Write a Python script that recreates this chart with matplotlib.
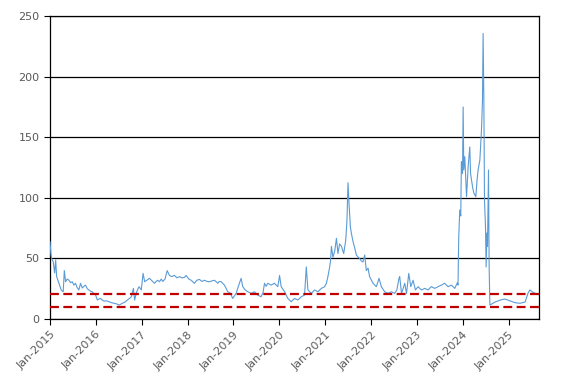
import matplotlib
matplotlib.use("Agg")
import matplotlib.pyplot as plt
import matplotlib.dates as mdates
import pandas as pd

dates = [
    "2015-01-01", "2015-01-08", "2015-01-14", "2015-01-27", "2015-02-07", "2015-02-15", "2015-02-23",
    "2015-03-13", "2015-03-31", "2015-04-16", "2015-04-25", "2015-05-05", "2015-05-18", "2015-06-01",
    "2015-06-14", "2015-06-27", "2015-07-10", "2015-07-23", "2015-08-05", "2015-08-19", "2015-09-01",
    "2015-09-15", "2015-09-28", "2015-10-11", "2015-10-25", "2015-11-07", "2015-11-20", "2015-12-03",
    "2015-12-16", "2015-12-30", "2016-01-13", "2016-01-26", "2016-02-08", "2016-02-22", "2016-03-06",
    "2016-03-25", "2016-04-15", "2016-05-05", "2016-05-25", "2016-06-15", "2016-07-04", "2016-07-30",
    "2016-08-20", "2016-09-08", "2016-09-25", "2016-10-10", "2016-10-26", "2016-11-05", "2016-11-21",
    "2016-12-10", "2016-12-28", "2017-01-11", "2017-01-24", "2017-02-10", "2017-03-03", "2017-03-29",
    "2017-04-12", "2017-04-25", "2017-05-08", "2017-05-22", "2017-06-05", "2017-06-17", "2017-07-05",
    "2017-07-22", "2017-08-09", "2017-08-28", "2017-09-18", "2017-10-08", "2017-10-28", "2017-11-18",
    "2017-12-07", "2017-12-20", "2018-01-10", "2018-01-29", "2018-02-24", "2018-03-15", "2018-04-05",
    "2018-04-25", "2018-05-15", "2018-06-05", "2018-06-24", "2018-07-15", "2018-08-03", "2018-08-29",
    "2018-09-10", "2018-09-25", "2018-10-21", "2018-11-05", "2018-11-16", "2018-12-08", "2018-12-26",
    "2019-01-22", "2019-02-17", "2019-03-03", "2019-03-16", "2019-04-05", "2019-04-25", "2019-05-22",
    "2019-06-17", "2019-07-13", "2019-08-09", "2019-08-25", "2019-09-05", "2019-09-18", "2019-10-01",
    "2019-10-28", "2019-11-23", "2019-12-20", "2020-01-03", "2020-01-16", "2020-02-12", "2020-03-09",
    "2020-04-05", "2020-05-01", "2020-05-28", "2020-06-24", "2020-07-20", "2020-08-03", "2020-08-16",
    "2020-09-12", "2020-10-08", "2020-11-03", "2020-12-01", "2020-12-27", "2021-01-10", "2021-01-22",
    "2021-02-05", "2021-02-12", "2021-02-19", "2021-03-03", "2021-03-17", "2021-03-31", "2021-04-12",
    "2021-04-25", "2021-05-10", "2021-05-28", "2021-06-13", "2021-06-23", "2021-07-01", "2021-07-09",
    "2021-07-20", "2021-07-28", "2021-08-10", "2021-08-25", "2021-09-06", "2021-09-20", "2021-10-02",
    "2021-10-15", "2021-10-28", "2021-11-11", "2021-11-24", "2021-12-08", "2021-12-20", "2022-01-16",
    "2022-02-12", "2022-03-05", "2022-03-24", "2022-04-19", "2022-05-16", "2022-06-11", "2022-07-08",
    "2022-07-25", "2022-08-11", "2022-08-17", "2022-08-31", "2022-09-26", "2022-10-10", "2022-10-28",
    "2022-11-13", "2022-12-01", "2022-12-20", "2023-01-10", "2023-02-06", "2023-03-04", "2023-03-30",
    "2023-04-26", "2023-05-23", "2023-06-18", "2023-07-15", "2023-08-10", "2023-09-06", "2023-10-03",
    "2023-10-29", "2023-11-19", "2023-11-24", "2023-11-30", "2023-12-08", "2023-12-16", "2023-12-21",
    "2023-12-30", "2024-01-04", "2024-01-09", "2024-01-17", "2024-01-31", "2024-02-13", "2024-02-26",
    "2024-03-03", "2024-03-19", "2024-03-29", "2024-04-14", "2024-04-24", "2024-05-02", "2024-05-16",
    "2024-05-29", "2024-06-06", "2024-06-11", "2024-06-17", "2024-06-22", "2024-06-30", "2024-07-05",
    "2024-07-11", "2024-07-16", "2024-07-24", "2024-07-29", "2024-08-04", "2024-09-13", "2024-10-10",
    "2024-11-05", "2024-12-02", "2025-01-11", "2025-02-20", "2025-04-01", "2025-05-11", "2025-06-06",
    "2025-06-19", "2025-07-13", "2025-08-06", "2025-08-30",
]

values = [
    63.8, 54, 50, 47, 38, 48.7, 35,
    29.5, 24, 22.5, 40, 30.8, 33, 32,
    30, 30.8, 28, 29.5, 26, 24, 29.5,
    25.6, 27, 28, 25, 24, 23, 22.5,
    21, 19.8, 15.7, 16.5, 17, 15.5, 14.8,
    15, 14.3, 13.5, 13, 12.5, 11.5, 13,
    14, 15.7, 17, 18.4, 25.3, 15.7, 22.5,
    26.7, 24, 37.7, 30.8, 32, 33.6, 31,
    29.5, 31, 32, 30.8, 33, 31, 33,
    40, 36, 35, 36, 34, 35, 34,
    34.4, 36, 33, 32, 29.5, 32, 32.7,
    31, 32, 31, 30.8, 31.5, 32, 29.5,
    31, 30.8, 28, 25, 22.5, 21.2, 17,
    21.2, 29.5, 33.6, 26.7, 24, 22.5, 21.2,
    22.5, 19.8, 18.4, 22, 29.5, 27, 29.5,
    28, 29.5, 26.7, 36, 26.7, 22.5, 17,
    14.3, 17, 15.7, 18.4, 19.8, 43, 24,
    21.2, 24, 22.5, 25.3, 26.7, 29.5, 35,
    43, 48, 60, 51, 56, 66.6, 54,
    62, 60, 54, 65, 82, 112.5, 95.5,
    76, 70.7, 64, 58, 52.8, 51, 50,
    48, 47, 52.8, 40, 42, 35, 29.5,
    26.7, 33.6, 26.7, 22.5, 21.2, 22.5, 21.2,
    24, 33.6, 35, 21, 29.5, 21, 37.7,
    26.7, 32, 24, 26.7, 24, 25.3, 24,
    26.7, 25.3, 26.7, 28, 29.5, 26.7, 28,
    25.3, 30, 28, 68, 90, 85, 130,
    120, 175, 123, 134, 101, 126, 142,
    120, 109, 104, 101, 115, 123, 131,
    156, 180, 235.7, 180, 98, 76, 43,
    71, 60, 123, 43, 11.5, 14, 15,
    16, 16.5, 15, 13.5, 13, 14, 22,
    24, 22, 21, 20,
]

y_ticks = [0, 50, 100, 150, 200, 250]
upper_level = 20.6
lower_level = 10.1

series = pd.Series(values, index=pd.to_datetime(dates))

fig = plt.figure(figsize=(5.67, 3.83), dpi=100)
ax = fig.add_axes([0.0882, 0.167, 0.8624, 0.791])

ax.plot(series.index, series.values, color="#5B9BD5", linewidth=0.8, zorder=3)
ax.axhline(upper_level, color="#C00000", linewidth=1.6, linestyle=(0, (4, 2)), zorder=4)
ax.axhline(lower_level, color="#C00000", linewidth=1.6, linestyle=(0, (4, 2)), zorder=4)

ax.set_ylim(0, 250)
ax.set_yticks(y_ticks)
ax.set_xlim(pd.Timestamp("2015-01-01"), pd.Timestamp("2025-08-30"))
ax.xaxis.set_major_locator(mdates.YearLocator(1, month=1, day=1))
ax.xaxis.set_major_formatter(mdates.DateFormatter("%b-%Y"))

ax.grid(axis="y", color="black", linewidth=0.9, zorder=1)
for s in ax.spines.values():
    s.set_color("black")
    s.set_linewidth(0.9)

ax.tick_params(axis="both", direction="out", length=4, width=0.8, color="black",
               labelcolor="#595959", labelsize=8)
for lbl in ax.get_xticklabels():
    lbl.set_rotation(45)
    lbl.set_ha("right")
    lbl.set_rotation_mode("anchor")

fig.savefig("out.png", dpi=100)
